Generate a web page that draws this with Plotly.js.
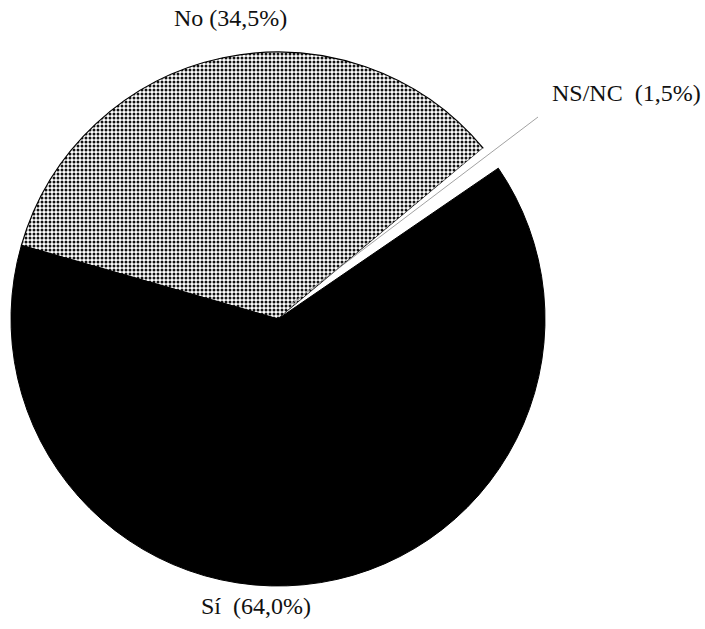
<!DOCTYPE html>
<html>
<head>
<meta charset="utf-8">
<script src="https://cdn.plot.ly/plotly-3.0.1.min.js"></script>
<style>body{margin:0;background:#fff;}</style>
</head>
<body>
<div id="chart" style="width:705px;height:629px;"></div>
<script>
const categories = ["No", "NS/NC", "Sí"];
const values = [34.5, 1.5, 64.0];
const labelTexts = ["No (34,5%)", "NS/NC\u00a0\u00a0(1,5%)", "Sí\u00a0\u00a0(64,0%)"];

const W = 705, H = 629;
const M = { l: 11, r: 160, t: 52, b: 43 };
const PW = W - M.l - M.r, PH = H - M.t - M.b;
const px = x => (x - M.l) / PW;
const py = y => 1 - (y - M.t) / PH;

const trace = {
  type: "pie",
  labels: categories,
  values: values,
  sort: false,
  direction: "clockwise",
  rotation: -74,
  textinfo: "none",
  hoverinfo: "label+percent",
  marker: {
    colors: ["#ffffff", "#ffffff", "#000000"],
    pattern: {
      shape: [".", "", ""],
      size: 4,
      solidity: 0.45,
      fgcolor: "#111111",
      bgcolor: "#ffffff",
      fillmode: "replace"
    },
    line: { color: ["#000000", "rgba(0,0,0,0)", "#000000"], width: [1.2, 0, 1] }
  },
  showlegend: false
};

const font = { family: "'Liberation Serif'", size: 24, color: "#111" };

const layout = {
  width: W,
  height: H,
  margin: M,
  paper_bgcolor: "#ffffff",
  plot_bgcolor: "#ffffff",
  showlegend: false,
  font: font,
  shapes: [
    { type: "line", xref: "paper", yref: "paper",
      x0: px(290), y0: py(305), x1: px(538), y1: py(117),
      line: { color: "#8a8a8a", width: 0.8 } }
  ],
  annotations: [
    { text: labelTexts[0], xref: "paper", yref: "paper",
      x: px(230), y: py(18), xanchor: "center", yanchor: "middle",
      showarrow: false, font: font },
    { text: labelTexts[1], xref: "paper", yref: "paper",
      x: px(550), y: py(93), xanchor: "left", yanchor: "middle",
      showarrow: false, font: font },
    { text: labelTexts[2], xref: "paper", yref: "paper",
      x: px(256), y: py(606), xanchor: "center", yanchor: "middle",
      showarrow: false, font: font }
  ]
};

Plotly.newPlot("chart", [trace], layout, { displayModeBar: false, staticPlot: true });
</script>
</body>
</html>
